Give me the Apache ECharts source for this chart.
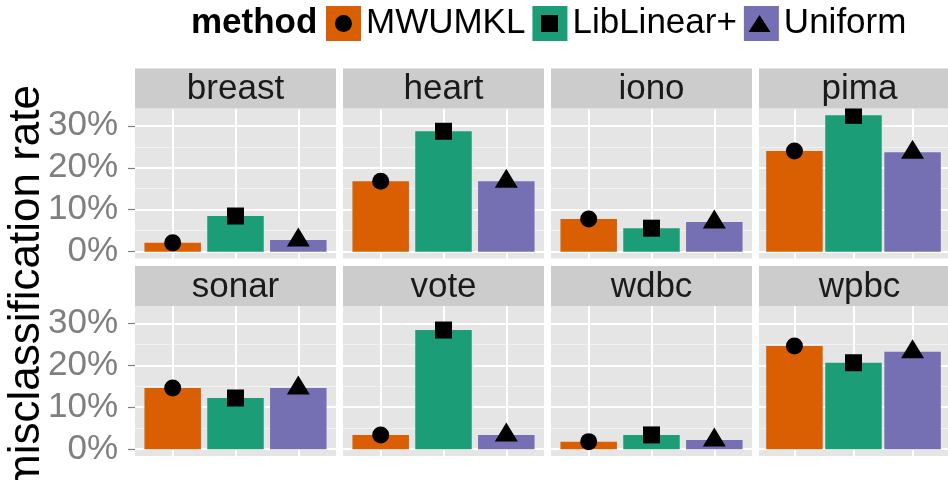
<!DOCTYPE html>
<html>
<head>
<meta charset="utf-8">
<script src="https://cdn.jsdelivr.net/npm/echarts@6/dist/echarts.min.js"></script>
<style>html,body{margin:0;padding:0;background:#fff;}#chart{width:948px;height:480px;}</style>
</head>
<body>
<div id="chart"></div>
<script>
// ---- data (misclassification rate, %) ----
const panels = ['breast', 'heart', 'iono', 'pima', 'sonar', 'vote', 'wdbc', 'wpbc'];
const methods = ['MWUMKL', 'LibLinear+', 'Uniform'];
const mwumkl    = [2.1, 16.8, 7.8, 24.0, 14.6, 3.4, 1.8, 24.6];
const liblinear = [8.5, 28.7, 5.6, 32.5, 12.2, 28.4, 3.4, 20.6];
const uniform   = [2.8, 16.8, 7.1, 23.7, 14.6, 3.4, 2.2, 23.2];
const yTicks = [0, 10, 20, 30];
const yMinorTicks = [5, 15, 25];
const xPositions = [1, 2, 3];
const legendTitle = 'method';
const yTitle = 'misclassification rate';

// ---- styling / layout ----
const FONT = '"Liberation Sans", Arial, Helvetica, sans-serif';
const colors = ['#D95F02', '#1B9E77', '#7570B3'];
const values = [mwumkl, liblinear, uniform];
const colLeft = [135, 343, 551, 759];
const rowTop = [108.5, 306];
const panelW = 201, panelH = 150, stripH = 40;
const yMin = -1.625, yMax = 34.125;

const grids = [], xAxes = [], yAxes = [], series = [], graphics = [];

panels.forEach((p, i) => {
  const r = Math.floor(i / 4), c = i % 4;
  const left = colLeft[c], top = rowTop[r];
  grids.push({left: left, top: top, width: panelW, height: panelH, show: true,
    backgroundColor: '#E5E5E5', borderWidth: 0});
  xAxes.push({gridIndex: i, type: 'value', min: 0.4, max: 3.6,
    axisLine: {show: false}, axisLabel: {show: false},
    axisTick: {show: false, customValues: xPositions},
    splitLine: {show: true, lineStyle: {color: '#FFFFFF', width: 2}}});
  // minor gridlines
  yAxes.push({gridIndex: i, type: 'value', min: yMin, max: yMax, position: 'left',
    axisLine: {show: false}, axisLabel: {show: false},
    axisTick: {show: false, customValues: yMinorTicks},
    splitLine: {show: true, lineStyle: {color: '#F2F2F2', width: 1.2}}});
  // major gridlines + labels
  yAxes.push({gridIndex: i, type: 'value', min: yMin, max: yMax, position: 'left',
    axisLine: {show: false},
    axisLabel: {show: c === 0, customValues: yTicks, fontSize: 35, fontFamily: FONT,
      color: '#7F7F7F', margin: 17, formatter: v => Math.round(v) + '%'},
    axisTick: {show: c === 0, customValues: yTicks, length: 7,
      lineStyle: {color: '#7F7F7F', width: 1.2}},
    splitLine: {show: true, lineStyle: {color: '#FFFFFF', width: 2}}});

  methods.forEach((m, k) => {
    series.push({type: 'bar', name: m, xAxisIndex: i, yAxisIndex: 2 * i + 1,
      data: [[xPositions[k], values[k][i]]], barWidth: 56.5, barGap: '-100%',
      itemStyle: {color: colors[k]}, z: 2, silent: true});
  });
  const syms = [
    {symbol: 'circle', size: 17, offset: [0, 0]},
    {symbol: 'rect', size: 17, offset: [0, 0]},
    {symbol: 'triangle', size: [23, 19], offset: [0, -3]}
  ];
  methods.forEach((m, k) => {
    series.push({type: 'scatter', name: 'pt_' + m, xAxisIndex: i, yAxisIndex: 2 * i + 1,
      data: [[xPositions[k], values[k][i]]], symbol: syms[k].symbol,
      symbolSize: syms[k].size, symbolOffset: syms[k].offset,
      itemStyle: {color: '#000000', opacity: 1}, z: 3, silent: true});
  });

  // facet strip (drawn above the marks, so points are clipped at the panel top as in the reference)
  graphics.push({type: 'rect', shape: {x: left, y: top - stripH, width: panelW, height: stripH},
    style: {fill: '#CCCCCC'}, silent: true, z: 50});
  graphics.push({type: 'text', x: left + panelW / 2, y: top - stripH + 21,
    style: {text: p, fontSize: 35, fontFamily: FONT, fill: '#1A1A1A', align: 'center', verticalAlign: 'middle'},
    silent: true, z: 51});
});

// y axis title
graphics.push({type: 'text', x: 27, y: 288, rotation: Math.PI / 2,
  style: {text: yTitle, fontSize: 44, fontFamily: FONT, fill: '#000', align: 'center', verticalAlign: 'middle'}});
// legend title
graphics.push({type: 'text', x: 191, y: 23.5,
  style: {text: legendTitle, fontSize: 35, fontWeight: 'bold', fontFamily: FONT, fill: '#000', align: 'left', verticalAlign: 'middle'}});
// legend key glyphs (drawn over legend colour boxes)
graphics.push({type: 'circle', shape: {cx: 343.5, cy: 23.5, r: 8.5}, style: {fill: '#000'}, z: 100});
graphics.push({type: 'rect', shape: {x: 541, y: 15, width: 17, height: 17}, style: {fill: '#000'}, z: 100});
graphics.push({type: 'polygon', shape: {points: [[759.5, 15], [770.5, 32], [748.5, 32]]}, style: {fill: '#000'}, z: 100});

const chart = echarts.init(document.getElementById('chart'), null, {renderer: 'canvas'});
chart.setOption({
  animation: false,
  backgroundColor: '#FFFFFF',
  textStyle: {fontFamily: FONT},
  legend: {data: methods, left: 326, top: 6, padding: 0, itemWidth: 35, itemHeight: 35, itemGap: 7,
    icon: 'rect', selectedMode: false,
    textStyle: {fontSize: 35, fontFamily: FONT, color: '#000'}},
  grid: grids,
  xAxis: xAxes,
  yAxis: yAxes,
  series: series,
  graphic: {elements: graphics}
});
</script>
</body>
</html>
